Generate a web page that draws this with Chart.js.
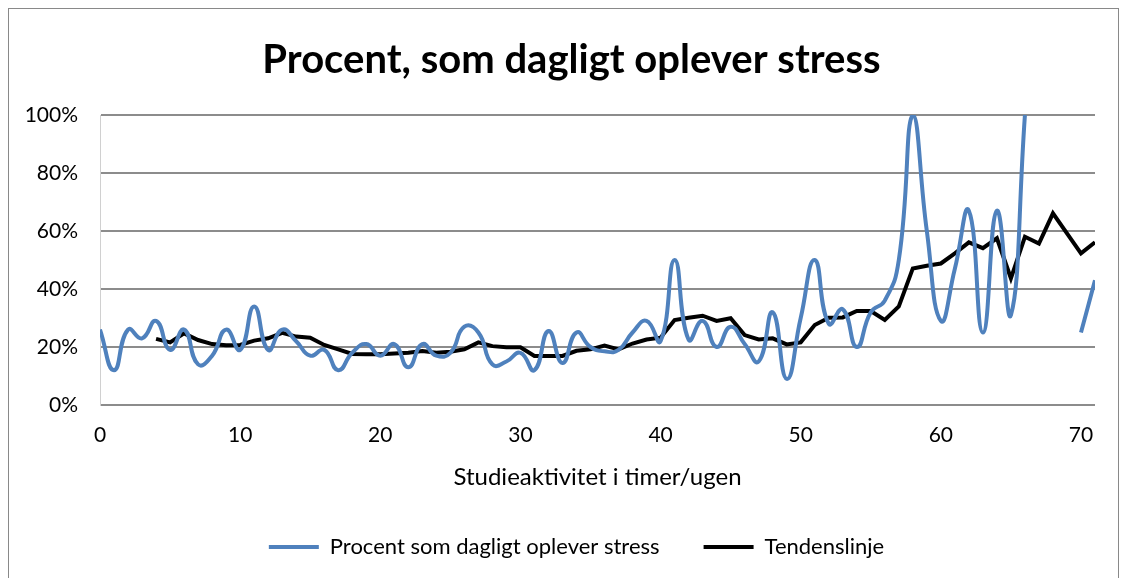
<!DOCTYPE html>
<html>
<head>
<meta charset="utf-8">
<script src="https://cdn.jsdelivr.net/npm/chart.js@4.4.1/dist/chart.umd.min.js"></script>
<style>
    html, body { margin: 0; padding: 0; background: #fff; overflow: hidden; }
    #frame { position: absolute; left: 8px; top: 8px; width: 1109px; height: 640px; border: 1px solid #898989; }
    #wrap { position: absolute; left: 0; top: 0; width: 1125px; height: 578px; }
</style>
</head>
<body>
<div id="frame"></div>
<div id="wrap"><canvas id="stressChart" width="1125" height="578"></canvas></div>
<script>
// Hours per week (x values)
const hours = [];
for (let h = 0; h <= 71; h++) hours.push(h);

// Percent who feel stressed daily (gaps at 67-69)
const stressPct = [
    26, 12, 26, 23, 29, 19, 26, 14, 17, 26,
    19, 34, 19, 26, 22, 17, 19, 12, 18, 21,
    17, 21, 13, 21, 17, 18, 27, 25, 14, 15,
    18, 12, 25.5, 14.5, 25, 20, 18.5, 19, 25, 29,
    22, 50, 22.5, 29, 20, 27, 21, 15, 32, 9,
    30, 50, 28, 33, 20, 32, 36, 50, 100, 60,
    29, 47, 67, 25, 67, 31, 100, null, null, null,
    25, 43
];

// Trend line (starts at 4 hours)
const trendHours = [];
for (let h = 4; h <= 71; h++) trendHours.push(h);
const trendPct = [
    22.8, 21.6, 24.7, 22.4, 21, 20.6, 20.7, 22.2, 23, 24.9,
    23.6, 23.2, 20.7, 19.2, 17.6, 17.5, 17.5, 17.8, 18, 18.6,
    18, 18.4, 19.2, 21.6, 20.3, 19.9, 19.9, 16.9, 16.9, 16.9,
    18.7, 19.2, 20.5, 19.2, 21.2, 22.6, 23.2, 29.3, 30.1, 30.8,
    29, 29.9, 24.1, 22.6, 23, 20.9, 21.6, 27.6, 30.1, 30.2,
    32.4, 32.4, 29.3, 34, 47.1, 48, 48.8, 52.3, 56.1, 54.1,
    57.5, 43.7, 58, 55.7, 66.1, 59.2, 52.3, 56.1
];

const yTicks = [0, 20, 40, 60, 80, 100];
const xTicks = [0, 10, 20, 30, 40, 50, 60, 70];

const FONT = 'Lato, "Open Sans", sans-serif';

// Nudge title and legend sideways so they sit where the original has them
const shiftBoxes = {
    id: 'shiftBoxes',
    afterLayout(chart) {
        if (chart.titleBlock) { chart.titleBlock.left += 24; chart.titleBlock.right += 24; }
        if (chart.legend) { chart.legend.left += 29; chart.legend.right += 29; }
    }
};

document.addEventListener('DOMContentLoaded', function() {
    const ctx = document.getElementById('stressChart').getContext('2d');
    new Chart(ctx, {
        type: 'line',
        data: {
            datasets: [{
                label: 'Procent som dagligt oplever stress',
                data: hours.map((h, i) => ({ x: h, y: stressPct[i] })),
                borderColor: '#4f81bd',
                backgroundColor: '#4f81bd',
                borderWidth: 4,
                pointRadius: 0,
                tension: 0.5,
                spanGaps: false
            }, {
                label: 'Tendenslinje',
                data: trendHours.map((h, i) => ({ x: h, y: trendPct[i] })),
                borderColor: '#000000',
                backgroundColor: '#000000',
                borderWidth: 4,
                pointRadius: 0,
                tension: 0
            }]
        },
        plugins: [shiftBoxes],
        options: {
            responsive: false,
            animation: false,
            layout: {
                padding: { left: 0, right: 30, top: 0, bottom: 10 }
            },
            scales: {
                x: {
                    type: 'linear',
                    min: 0,
                    max: 71,
                    afterFit: function(scale) { scale.height = 87; },
                    afterBuildTicks: function(scale) {
                        scale.ticks = xTicks.map(v => ({ value: v }));
                    },
                    grid: { display: false, drawTicks: false },
                    border: { display: false },
                    ticks: {
                        color: '#000',
                        padding: 18,
                        maxRotation: 0,
                        font: { family: FONT, size: 21 }
                    },
                    title: {
                        display: true,
                        text: 'Studieaktivitet i timer/ugen',
                        color: '#000',
                        font: { family: FONT, size: 24, lineHeight: 1 },
                        padding: { top: 0, bottom: 3 }
                    }
                },
                y: {
                    min: 0,
                    max: 100,
                    afterFit: function(scale) { scale.width = 100; },
                    afterBuildTicks: function(scale) {
                        scale.ticks = yTicks.map(v => ({ value: v }));
                    },
                    grid: { color: '#8c8c8c', lineWidth: 2, drawTicks: false },
                    border: { display: true, color: '#d0d0d0', width: 1 },
                    ticks: {
                        color: '#000',
                        padding: 22,
                        font: { family: FONT, size: 21 },
                        callback: v => v + '%'
                    }
                }
            },
            plugins: {
                title: {
                    display: true,
                    text: 'Procent, som dagligt oplever stress',
                    color: '#000',
                    font: { family: FONT, size: 40, weight: 'bold' },
                    padding: { top: 36, bottom: 31 }
                },
                legend: {
                    position: 'bottom',
                    labels: {
                        usePointStyle: true,
                        pointStyle: 'line',
                        pointStyleWidth: 50,
                        padding: 44,
                        color: '#000',
                        font: { family: FONT, size: 22 }
                    }
                },
                tooltip: { enabled: false }
            }
        }
    });
});
</script>
</body>
</html>
